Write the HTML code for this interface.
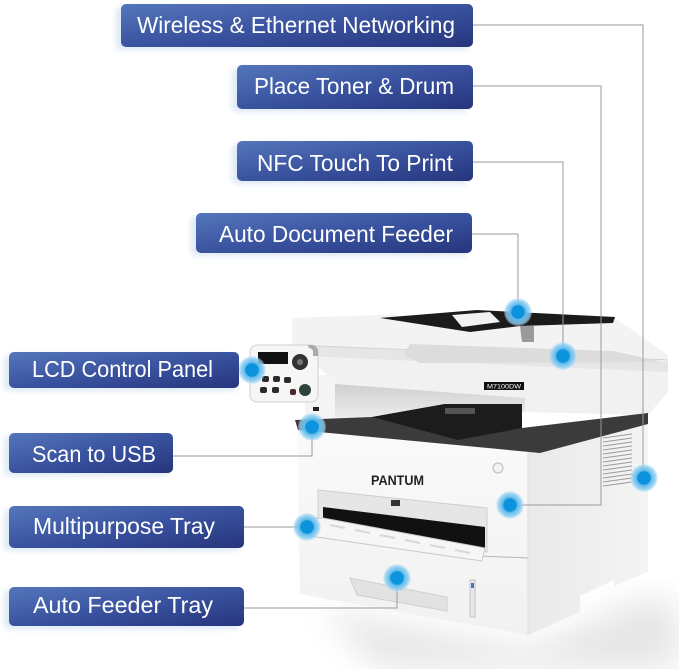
<!DOCTYPE html>
<html><head><meta charset="utf-8"><style>
html,body{margin:0;padding:0;background:#fff;}
svg{display:block;}
text{font-family:"Liberation Sans",sans-serif;}
</style></head><body>
<svg width="679" height="669" viewBox="0 0 679 669" xmlns="http://www.w3.org/2000/svg">
<defs>
<linearGradient id="bx" x1="0" y1="0" x2="1" y2="1">
<stop offset="0" stop-color="#5576bb"/><stop offset="0.5" stop-color="#3a53a0"/><stop offset="1" stop-color="#26357c"/>
</linearGradient>
<radialGradient id="dot">
<stop offset="0" stop-color="#0c93dd"/><stop offset="0.45" stop-color="#0c93dd"/><stop offset="0.52" stop-color="#5cb8ea"/><stop offset="0.85" stop-color="#8fd0f2" stop-opacity="0.8"/><stop offset="1" stop-color="#bfe4f7" stop-opacity="0.3"/>
</radialGradient>
<filter id="blur" x="-20%" y="-20%" width="140%" height="140%"><feGaussianBlur stdDeviation="16"/></filter>
<filter id="glow" x="-10%" y="-30%" width="120%" height="160%"><feGaussianBlur stdDeviation="3"/></filter>
<linearGradient id="side" x1="0" y1="0" x2="1" y2="0"><stop offset="0" stop-color="#e9e9e9"/><stop offset="1" stop-color="#f4f4f4"/></linearGradient>
<linearGradient id="front" x1="0" y1="0" x2="0" y2="1"><stop offset="0" stop-color="#fafafa"/><stop offset="1" stop-color="#f1f1f1"/></linearGradient>
<linearGradient id="gap" x1="0" y1="0" x2="0" y2="1"><stop offset="0" stop-color="#cfcfcf"/><stop offset="1" stop-color="#eeeeee"/></linearGradient>
</defs>

<!-- shadow -->
<polygon points="320,610 530,648 650,595 679,610 679,669 380,669" fill="#e6e6e6" filter="url(#blur)"/>

<!-- printer main body right side -->
<polygon points="528,452 648,424 648,572 614,586 614,580 580,596 580,612 528,635" fill="url(#side)"/>
<g stroke="#9a9a9a" stroke-width="1">
<line x1="603" y1="438" x2="632" y2="434"/><line x1="603" y1="442" x2="632" y2="438"/><line x1="603" y1="446" x2="632" y2="442"/><line x1="603" y1="450" x2="632" y2="446"/><line x1="603" y1="454" x2="632" y2="450"/><line x1="603" y1="458" x2="632" y2="454"/><line x1="603" y1="462" x2="632" y2="458"/><line x1="603" y1="466" x2="632" y2="462"/><line x1="603" y1="470" x2="632" y2="466"/><line x1="603" y1="474" x2="632" y2="470"/><line x1="603" y1="478" x2="632" y2="474"/><line x1="603" y1="482" x2="632" y2="478"/><line x1="603" y1="486" x2="632" y2="482"/>
</g>
<polygon points="297,428 528,452 528,635 300,594" fill="url(#front)"/>
<line x1="528" y1="452" x2="528" y2="635" stroke="#dedede"/>
<line x1="480" y1="556" x2="528" y2="558" stroke="#b5b5b5"/>
<polygon points="350,578 447,597 447,611 357,595" fill="#e2e2e2" stroke="#d0d0d0"/>
<rect x="470" y="580" width="5" height="37" fill="#e6e6e6" stroke="#bbb" stroke-width="0.8"/>
<rect x="471" y="583" width="3" height="5" fill="#3b7bd0"/>
<text x="371" y="485" font-size="14" font-weight="bold" fill="#222" textLength="53" lengthAdjust="spacingAndGlyphs">PANTUM</text>
<circle cx="498" cy="468" r="5" fill="#f3f3f3" stroke="#bbb"/>
<polygon points="318,490 487,508 487,552 318,522" fill="#e6e6e6" stroke="#cfcfcf"/>
<polygon points="323,507 485,527 485,548 323,519" fill="#111"/>
<rect x="391" y="500" width="9" height="6" fill="#333"/>
<polygon points="300,520 323,518 485,548 482,561 310,536" fill="#f6f6f6" stroke="#c8c8c8"/>
<g stroke="#d8d8d8" stroke-width="2">
<line x1="330" y1="525" x2="345" y2="528"/><line x1="355" y1="530" x2="370" y2="533"/><line x1="380" y1="535" x2="395" y2="538"/><line x1="405" y1="540" x2="420" y2="543"/><line x1="430" y1="545" x2="445" y2="548"/><line x1="455" y1="550" x2="470" y2="553"/>
</g>

<polygon points="305,352 668,372 668,392 648,415 525,412 525,398 335,384" fill="#f1f1f1"/>
<polygon points="335,384 525,398 525,412 445,405 372,417 335,420" fill="url(#gap)"/>
<rect x="305" y="375" width="30" height="48" fill="#f4f4f4"/>
<rect x="313" y="407" width="6" height="4" fill="#222"/>
<polygon points="295,420 372,417 445,404 522,404 522,428 648,413 648,424 540,453 298,430" fill="#3b3b3b"/>
<polygon points="372,417 445,404 522,404 522,428 458,440" fill="#1c1c1c"/>
<rect x="445" y="408" width="30" height="6" fill="#555"/>

<polygon points="292,318 380,315 615,318 668,355 668,372 305,356 292,350" fill="#f3f3f3"/>
<polygon points="292,345 668,362 668,372 305,356 292,350" fill="#e6e6e6"/>
<line x1="292" y1="345" x2="668" y2="360" stroke="#d2d2d2"/>
<polygon points="410,344 613,351 662,362 420,363 404,355" fill="#dcdcdc"/>
<polygon points="380,318 477,310 615,317 613,323 520,326 470,332" fill="#1b1b1b"/>
<polygon points="452,315 490,312 500,322 462,327" fill="#f2f2f2"/>
<polygon points="520,326 534,326 534,342 522,342" fill="#9a9a9a"/>
<rect x="484" y="382" width="40" height="8" fill="#111"/>
<text x="487" y="388.5" font-size="6" fill="#fff" textLength="34" lengthAdjust="spacingAndGlyphs">M7100DW</text>

<rect x="250" y="345" width="68" height="57" rx="7" fill="#f6f6f6" stroke="#cfcfcf"/>
<path d="M308,345 h3 a7,7 0 0 1 7,7 v4 h-5 v-4 a4,4 0 0 0 -4,-4 z" fill="#aaa"/>
<rect x="258" y="352" width="30" height="12" fill="#111"/>
<circle cx="300" cy="362" r="8" fill="#333"/>
<circle cx="300" cy="362" r="3" fill="#777"/>
<g fill="#2a2a2a">
<rect x="262" y="376" width="7" height="6" rx="2"/><rect x="273" y="376" width="7" height="6" rx="2"/><rect x="284" y="377" width="7" height="6" rx="2"/>
<rect x="260" y="387" width="7" height="6" rx="2"/><rect x="272" y="387" width="7" height="6" rx="2"/><rect x="290" y="389" width="6" height="6" rx="2" fill="#4a2a2a"/>
</g>
<circle cx="305" cy="390" r="6" fill="#2d4538"/>

<!-- connectors -->
<g stroke="#9a9a9a" stroke-width="1" fill="none">
<polyline points="473,25 643,25 643,478"/>
<polyline points="473,86 601,86 601,505 510,505"/>
<polyline points="473,162 563,162 563,356"/>
<polyline points="472,234 518,234 518,312"/>
<polyline points="173,456 312,456 312,427"/>
<polyline points="244,527 307,527"/>
<polyline points="244,608 397,608 397,578"/>
</g>

<g fill="url(#dot)">
<circle cx="518" cy="312" r="14"/>
<circle cx="563" cy="356" r="14"/>
<circle cx="510" cy="505" r="14"/>
<circle cx="644" cy="478" r="14"/>
<circle cx="252" cy="370" r="14"/>
<circle cx="312" cy="427" r="14"/>
<circle cx="307" cy="527" r="14"/>
<circle cx="397" cy="578" r="14"/>
</g>

<g fill="#cfe0f2" opacity="0.7" filter="url(#glow)">
<rect x="116" y="7" width="352" height="43" rx="5"/>
<rect x="232" y="68" width="236" height="44" rx="5"/>
<rect x="232" y="144" width="236" height="40" rx="5"/>
<rect x="191" y="216" width="277" height="40" rx="5"/>
<rect x="4" y="355" width="233" height="36" rx="5"/>
<rect x="4" y="436" width="165" height="40" rx="5"/>
<rect x="4" y="509" width="236" height="42" rx="5"/>
<rect x="4" y="590" width="236" height="39" rx="5"/>
</g>
<g fill="url(#bx)">
<rect x="121" y="4" width="352" height="43" rx="5"/>
<rect x="237" y="65" width="236" height="44" rx="5"/>
<rect x="237" y="141" width="236" height="40" rx="5"/>
<rect x="196" y="213" width="276" height="40" rx="5"/>
<rect x="9" y="352" width="230" height="36" rx="5"/>
<rect x="9" y="433" width="164" height="40" rx="5"/>
<rect x="9" y="506" width="235" height="42" rx="5"/>
<rect x="9" y="587" width="235" height="39" rx="5"/>
</g>
<g fill="#ffffff" font-size="23">
<text x="137" y="33" textLength="318" lengthAdjust="spacingAndGlyphs">Wireless &amp; Ethernet Networking</text>
<text x="254" y="94" textLength="200" lengthAdjust="spacingAndGlyphs">Place Toner &amp; Drum</text>
<text x="257" y="171" textLength="196" lengthAdjust="spacingAndGlyphs">NFC Touch To Print</text>
<text x="219" y="242" textLength="234" lengthAdjust="spacingAndGlyphs">Auto Document Feeder</text>
<text x="32" y="377" textLength="181" lengthAdjust="spacingAndGlyphs">LCD Control Panel</text>
<text x="32" y="462" textLength="124" lengthAdjust="spacingAndGlyphs">Scan to USB</text>
<text x="33" y="534" textLength="182" lengthAdjust="spacingAndGlyphs">Multipurpose Tray</text>
<text x="33" y="613" textLength="180" lengthAdjust="spacingAndGlyphs">Auto Feeder Tray</text>
</g>
</svg>
</body></html>
